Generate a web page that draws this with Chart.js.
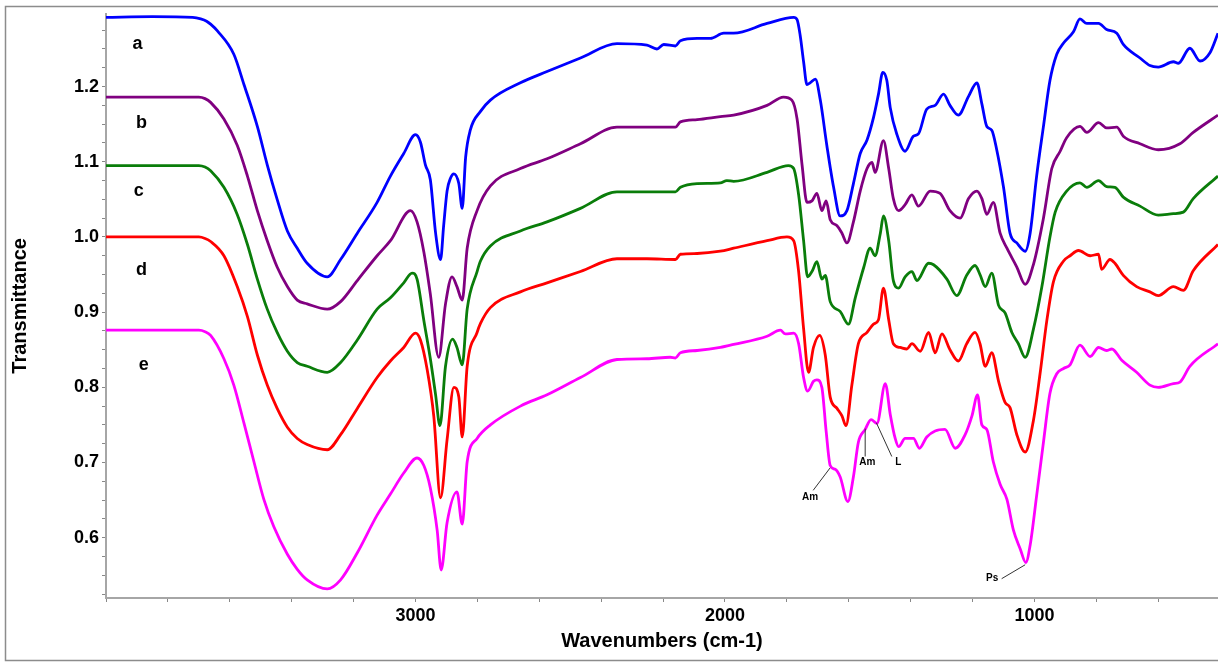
<!DOCTYPE html>
<html>
<head>
<meta charset="utf-8">
<script src="https://cdn.jsdelivr.net/npm/chart.js@4.4.1/dist/chart.umd.min.js"></script>
<style>
  html, body { margin: 0; padding: 0; background: #ffffff; }
  #wrap { width: 1218px; height: 662px; position: relative; }
</style>
</head>
<body>
<div id="wrap"><canvas id="c" width="1218" height="662"></canvas></div>
<script>
// ---- Data: [wavenumber (cm-1), transmittance] ----
const spectrumA = [[4000,1.292],[3850,1.293],[3720,1.292],[3694,1.290],[3675,1.287],[3662,1.283],[3640,1.274],[3587,1.243],[3554,1.2025],[3511,1.147],[3479,1.096],[3447,1.05],[3414,1.008],[3382,0.985],[3350,0.965],[3285,0.947],[3242,0.970],[3188,1.005],[3124,1.046],[3081,1.081],[3038,1.111],[3000,1.136],[2984,1.126],[2968,1.096],[2952,1.076],[2935,1.005],[2919,0.970],[2909,1.015],[2898,1.061],[2887,1.078],[2876,1.084],[2860,1.071],[2849,1.038],[2838,1.106],[2823,1.142],[2790,1.167],[2758,1.182],[2661,1.205],[2575,1.22],[2467,1.238],[2349,1.257],[2252,1.255],[2220,1.250],[2198,1.256],[2160,1.254],[2144,1.261],[2090,1.264],[2047,1.264],[2004,1.271],[1972,1.271],[1864,1.284],[1778,1.292],[1767,1.289],[1757,1.268],[1746,1.233],[1735,1.2025],[1725,1.205],[1708,1.21],[1692,1.182],[1671,1.122],[1649,1.066],[1628,1.028],[1606,1.035],[1585,1.071],[1563,1.111],[1541,1.129],[1520,1.159],[1504,1.19],[1490,1.219],[1477,1.208],[1466,1.172],[1445,1.137],[1418,1.114],[1391,1.134],[1375,1.137],[1348,1.17],[1321,1.175],[1294,1.19],[1273,1.175],[1246,1.162],[1213,1.187],[1186,1.205],[1170,1.177],[1154,1.147],[1138,1.142],[1122,1.116],[1100,1.066],[1079,1.005],[1057,0.992],[1030,0.981],[1014,1.005],[993,1.081],[971,1.147],[950,1.208],[928,1.243],[906,1.258],[874,1.273],[853,1.29],[831,1.284],[793,1.284],[767,1.276],[734,1.271],[713,1.256],[659,1.238],[627,1.228],[600,1.226],[551,1.233],[535,1.231],[498,1.251],[465,1.234],[433,1.245],[407,1.271]];

const spectrumB = [[4000,1.186],[3850,1.186],[3700,1.186],[3680,1.184],[3662,1.179],[3619,1.157],[3576,1.122],[3543,1.081],[3511,1.035],[3479,0.995],[3447,0.96],[3414,0.934],[3382,0.916],[3350,0.911],[3285,0.904],[3242,0.914],[3188,0.942],[3124,0.975],[3081,0.995],[3016,1.035],[2995,1.02],[2973,0.98],[2952,0.924],[2925,0.84],[2903,0.911],[2882,0.947],[2866,0.934],[2849,0.916],[2833,0.985],[2801,1.035],[2758,1.068],[2661,1.091],[2575,1.104],[2467,1.124],[2349,1.146],[2252,1.146],[2160,1.146],[2144,1.153],[2090,1.156],[2015,1.16],[1972,1.162],[1864,1.175],[1811,1.186],[1784,1.182],[1767,1.157],[1751,1.096],[1735,1.046],[1719,1.048],[1703,1.058],[1687,1.035],[1673,1.048],[1660,1.023],[1638,1.015],[1622,1.005],[1606,0.992],[1585,1.02],[1563,1.061],[1541,1.091],[1525,1.099],[1515,1.086],[1488,1.128],[1471,1.091],[1456,1.051],[1439,1.035],[1418,1.043],[1396,1.056],[1375,1.041],[1337,1.061],[1305,1.058],[1273,1.035],[1240,1.025],[1213,1.051],[1186,1.061],[1170,1.051],[1154,1.030],[1133,1.046],[1111,1.005],[1089,0.985],[1057,0.96],[1030,0.937],[1003,0.964],[971,1.025],[944,1.091],[917,1.114],[896,1.132],[853,1.147],[831,1.139],[793,1.152],[767,1.145],[734,1.146],[713,1.134],[659,1.124],[600,1.116],[530,1.124],[487,1.139],[407,1.162]];

const spectrumC = [[4000,1.095],[3850,1.095],[3700,1.095],[3680,1.093],[3662,1.088],[3619,1.066],[3576,1.030],[3543,0.99],[3511,0.944],[3479,0.904],[3447,0.873],[3414,0.848],[3382,0.833],[3350,0.828],[3285,0.820],[3242,0.833],[3188,0.863],[3124,0.904],[3081,0.919],[3038,0.939],[3011,0.952],[2995,0.944],[2973,0.889],[2952,0.838],[2935,0.79],[2921,0.749],[2903,0.828],[2880,0.864],[2866,0.853],[2849,0.830],[2833,0.904],[2801,0.954],[2790,0.968],[2758,0.988],[2661,1.008],[2575,1.02],[2467,1.038],[2349,1.06],[2252,1.06],[2160,1.06],[2144,1.066],[2090,1.071],[2015,1.072],[1994,1.075],[1972,1.074],[1864,1.086],[1795,1.095],[1778,1.091],[1762,1.056],[1746,0.995],[1733,0.947],[1719,0.954],[1703,0.967],[1687,0.944],[1676,0.949],[1660,0.914],[1628,0.901],[1601,0.884],[1579,0.919],[1552,0.959],[1531,0.985],[1515,0.975],[1498,1.005],[1488,1.028],[1471,0.995],[1456,0.942],[1439,0.932],[1418,0.947],[1396,0.954],[1380,0.942],[1342,0.965],[1326,0.963],[1283,0.944],[1251,0.922],[1219,0.949],[1192,0.962],[1176,0.95],[1159,0.934],[1138,0.952],[1116,0.909],[1095,0.899],[1073,0.873],[1052,0.858],[1030,0.840],[1003,0.878],[976,0.934],[950,1.0],[933,1.033],[896,1.061],[853,1.072],[831,1.066],[793,1.075],[767,1.067],[740,1.066],[713,1.053],[659,1.041],[600,1.029],[551,1.031],[519,1.033],[487,1.051],[407,1.081]];

const spectrumD = [[4000,1.0],[3850,1.0],[3700,1.0],[3680,0.998],[3662,0.994],[3619,0.975],[3576,0.934],[3543,0.894],[3511,0.843],[3479,0.803],[3447,0.772],[3414,0.747],[3382,0.732],[3350,0.724],[3285,0.717],[3242,0.737],[3188,0.772],[3124,0.813],[3081,0.835],[3038,0.853],[3000,0.872],[2984,0.863],[2962,0.823],[2941,0.762],[2919,0.653],[2898,0.73],[2876,0.80],[2860,0.787],[2849,0.734],[2833,0.828],[2801,0.873],[2790,0.885],[2758,0.906],[2661,0.927],[2575,0.939],[2467,0.954],[2349,0.971],[2252,0.971],[2160,0.970],[2144,0.977],[2090,0.978],[2015,0.981],[1972,0.985],[1864,0.995],[1800,1.0],[1778,0.995],[1762,0.954],[1746,0.878],[1730,0.82],[1714,0.853],[1694,0.869],[1676,0.843],[1660,0.787],[1638,0.772],[1622,0.762],[1609,0.749],[1590,0.803],[1569,0.858],[1541,0.873],[1520,0.884],[1504,0.89],[1488,0.932],[1471,0.89],[1456,0.858],[1434,0.853],[1412,0.851],[1396,0.858],[1369,0.848],[1342,0.873],[1321,0.846],[1299,0.871],[1273,0.85],[1246,0.835],[1219,0.858],[1192,0.873],[1176,0.858],[1159,0.828],[1138,0.846],[1116,0.808],[1095,0.780],[1079,0.773],[1057,0.737],[1030,0.714],[1003,0.757],[982,0.818],[960,0.889],[939,0.94],[906,0.968],[885,0.975],[858,0.982],[820,0.975],[793,0.977],[783,0.957],[756,0.970],[740,0.965],[713,0.949],[670,0.934],[627,0.927],[600,0.922],[551,0.934],[519,0.929],[487,0.955],[407,0.99]];

const spectrumE = [[4000,0.876],[3850,0.876],[3700,0.876],[3680,0.874],[3662,0.869],[3619,0.838],[3587,0.803],[3554,0.752],[3522,0.701],[3490,0.651],[3458,0.615],[3414,0.578],[3382,0.558],[3350,0.544],[3285,0.532],[3242,0.544],[3188,0.58],[3124,0.630],[3081,0.658],[3038,0.686],[2995,0.706],[2973,0.696],[2952,0.666],[2930,0.61],[2917,0.557],[2898,0.62],[2866,0.661],[2849,0.618],[2833,0.701],[2801,0.732],[2758,0.750],[2661,0.775],[2575,0.79],[2467,0.813],[2349,0.837],[2252,0.838],[2177,0.84],[2160,0.839],[2144,0.846],[2090,0.849],[2015,0.853],[1972,0.857],[1864,0.868],[1821,0.876],[1805,0.871],[1778,0.872],[1762,0.858],[1746,0.813],[1733,0.795],[1714,0.808],[1703,0.810],[1687,0.80],[1673,0.741],[1660,0.696],[1644,0.691],[1628,0.681],[1603,0.648],[1585,0.681],[1569,0.727],[1547,0.744],[1528,0.757],[1509,0.752],[1482,0.805],[1466,0.764],[1450,0.732],[1439,0.721],[1418,0.732],[1391,0.732],[1372,0.719],[1348,0.734],[1321,0.742],[1289,0.744],[1256,0.719],[1224,0.737],[1202,0.762],[1184,0.790],[1170,0.75],[1154,0.744],[1133,0.701],[1111,0.671],[1089,0.651],[1068,0.610],[1046,0.585],[1028,0.567],[1014,0.59],[993,0.656],[971,0.727],[950,0.792],[928,0.818],[906,0.825],[885,0.83],[853,0.856],[820,0.841],[793,0.853],[767,0.849],[750,0.851],[718,0.836],[670,0.820],[627,0.803],[600,0.80],[551,0.805],[530,0.807],[498,0.828],[407,0.858]];

const seriesNames = ['a', 'b', 'c', 'd', 'e'];
const seriesColors = ['#0000ff', '#800080', '#0a7d0a', '#ff0000', '#ff00ff'];
const nameWn = [3898, 3885, 3894, 3885, 3878];
const nameT = [1.257, 1.152, 1.061, 0.956, 0.829];

// Peak annotations: label, label position, pointer start, pointer end (on curve e)
const annoText = ['Am', 'Am', 'L', 'Ps'];
const annoTextWn = [1725, 1540, 1440, 1137];
const annoTextT = [0.6535, 0.6998, 0.700, 0.546];
const annoFromWn = [1715, 1547, 1461, 1106];
const annoFromT = [0.663, 0.708, 0.708, 0.5455];
const annoToWn = [1660, 1547, 1511, 1030];
const annoToT = [0.693, 0.745, 0.753, 0.564];

const xTickLabels = ['3000', '2000', '1000'];
const yTickLabels = ['0.6', '0.7', '0.8', '0.9', '1.0', '1.1', '1.2'];

const FONT = '"Liberation Sans", Arial, Helvetica, sans-serif';

const overlay = {
  id: 'overlay',
  beforeDraw(chart) {
    const ctx = chart.ctx;
    ctx.save();
    ctx.strokeStyle = '#8c8c8c';
    ctx.lineWidth = 1.5;
    ctx.beginPath();
    ctx.moveTo(1300, 6.5);
    ctx.lineTo(5.5, 6.5);
    ctx.lineTo(5.5, 660.5);
    ctx.lineTo(1300, 660.5);
    ctx.stroke();
    ctx.restore();
  },
  afterDatasetsDraw(chart) {
    const ctx = chart.ctx;
    const xs = chart.scales.x, ys = chart.scales.y;
    ctx.save();
    ctx.fillStyle = '#000';
    ctx.textAlign = 'center';
    ctx.textBaseline = 'middle';
    ctx.font = 'bold 18px ' + FONT;
    seriesNames.forEach((s, i) => {
      ctx.fillText(s, xs.getPixelForValue(nameWn[i]), ys.getPixelForValue(nameT[i]));
    });
    ctx.strokeStyle = '#333';
    ctx.lineWidth = 1;
    annoText.forEach((t, i) => {
      ctx.beginPath();
      ctx.moveTo(xs.getPixelForValue(annoFromWn[i]), ys.getPixelForValue(annoFromT[i]));
      ctx.lineTo(xs.getPixelForValue(annoToWn[i]), ys.getPixelForValue(annoToT[i]));
      ctx.stroke();
    });
    ctx.font = 'bold 10px ' + FONT;
    annoText.forEach((t, i) => {
      ctx.fillText(t, xs.getPixelForValue(annoTextWn[i]), ys.getPixelForValue(annoTextT[i]));
    });
    ctx.restore();
  }
};

const datasets = [spectrumA, spectrumB, spectrumC, spectrumD, spectrumE].map((s, i) => ({
  label: seriesNames[i],
  data: s.map(p => ({ x: p[0], y: p[1] })),
  borderColor: seriesColors[i],
  backgroundColor: seriesColors[i],
  borderWidth: 2.8,
  pointRadius: 0,
  fill: false,
  cubicInterpolationMode: 'monotone'
}));

new Chart(document.getElementById('c'), {
  type: 'line',
  data: { datasets },
  plugins: [overlay],
  options: {
    responsive: false,
    animation: false,
    devicePixelRatio: 1,
    layout: { padding: { top: 10, left: 0, right: 0, bottom: 0 } },
    plugins: { legend: { display: false }, tooltip: { enabled: false } },
    scales: {
      x: {
        type: 'linear',
        reverse: true,
        min: 407,
        max: 4000,
        afterFit(scale) { scale.height = 64; },
        afterBuildTicks(scale) {
          const t = [];
          for (let v = 600; v <= 4000; v += 200) t.push({ value: v });
          scale.ticks = t;
        },
        ticks: {
          autoSkip: false,
          maxRotation: 0,
          padding: 3,
          color: '#000',
          font: { family: FONT, size: 18, weight: 'bold' },
          callback(value) {
            const s = String(value);
            return xTickLabels.includes(s) ? s : '';
          }
        },
        grid: { drawOnChartArea: false, drawTicks: true, tickLength: 4, tickColor: '#888' },
        border: { display: true, color: '#a6a6a6', width: 2 },
        title: {
          display: true,
          text: 'Wavenumbers (cm-1)',
          color: '#000',
          font: { family: FONT, size: 20, weight: 'bold' },
          padding: { top: 0, bottom: 9 }
        }
      },
      y: {
        type: 'linear',
        min: 0.5198,
        max: 1.2968,
        afterFit(scale) { scale.width = 106; },
        afterBuildTicks(scale) {
          const t = [];
          for (let k = 21; k <= 51; k++) t.push({ value: Math.round(k * 25) / 1000 });
          scale.ticks = t;
        },
        ticks: {
          autoSkip: false,
          padding: 3,
          color: '#000',
          font: { family: FONT, size: 18, weight: 'bold' },
          callback(value) {
            const s = value.toFixed(3);
            const lab = Number(s).toFixed(1);
            return (Math.abs(Number(lab) - value) < 1e-6 && yTickLabels.includes(lab)) ? lab : '';
          }
        },
        grid: { drawOnChartArea: false, drawTicks: true, tickLength: 4, tickColor: '#888' },
        border: { display: true, color: '#a6a6a6', width: 2 },
        title: {
          display: true,
          text: 'Transmittance',
          color: '#000',
          font: { family: FONT, size: 20, weight: 'bold' },
          padding: { top: 8, bottom: 0 }
        }
      }
    }
  }
});
</script>
</body>
</html>
